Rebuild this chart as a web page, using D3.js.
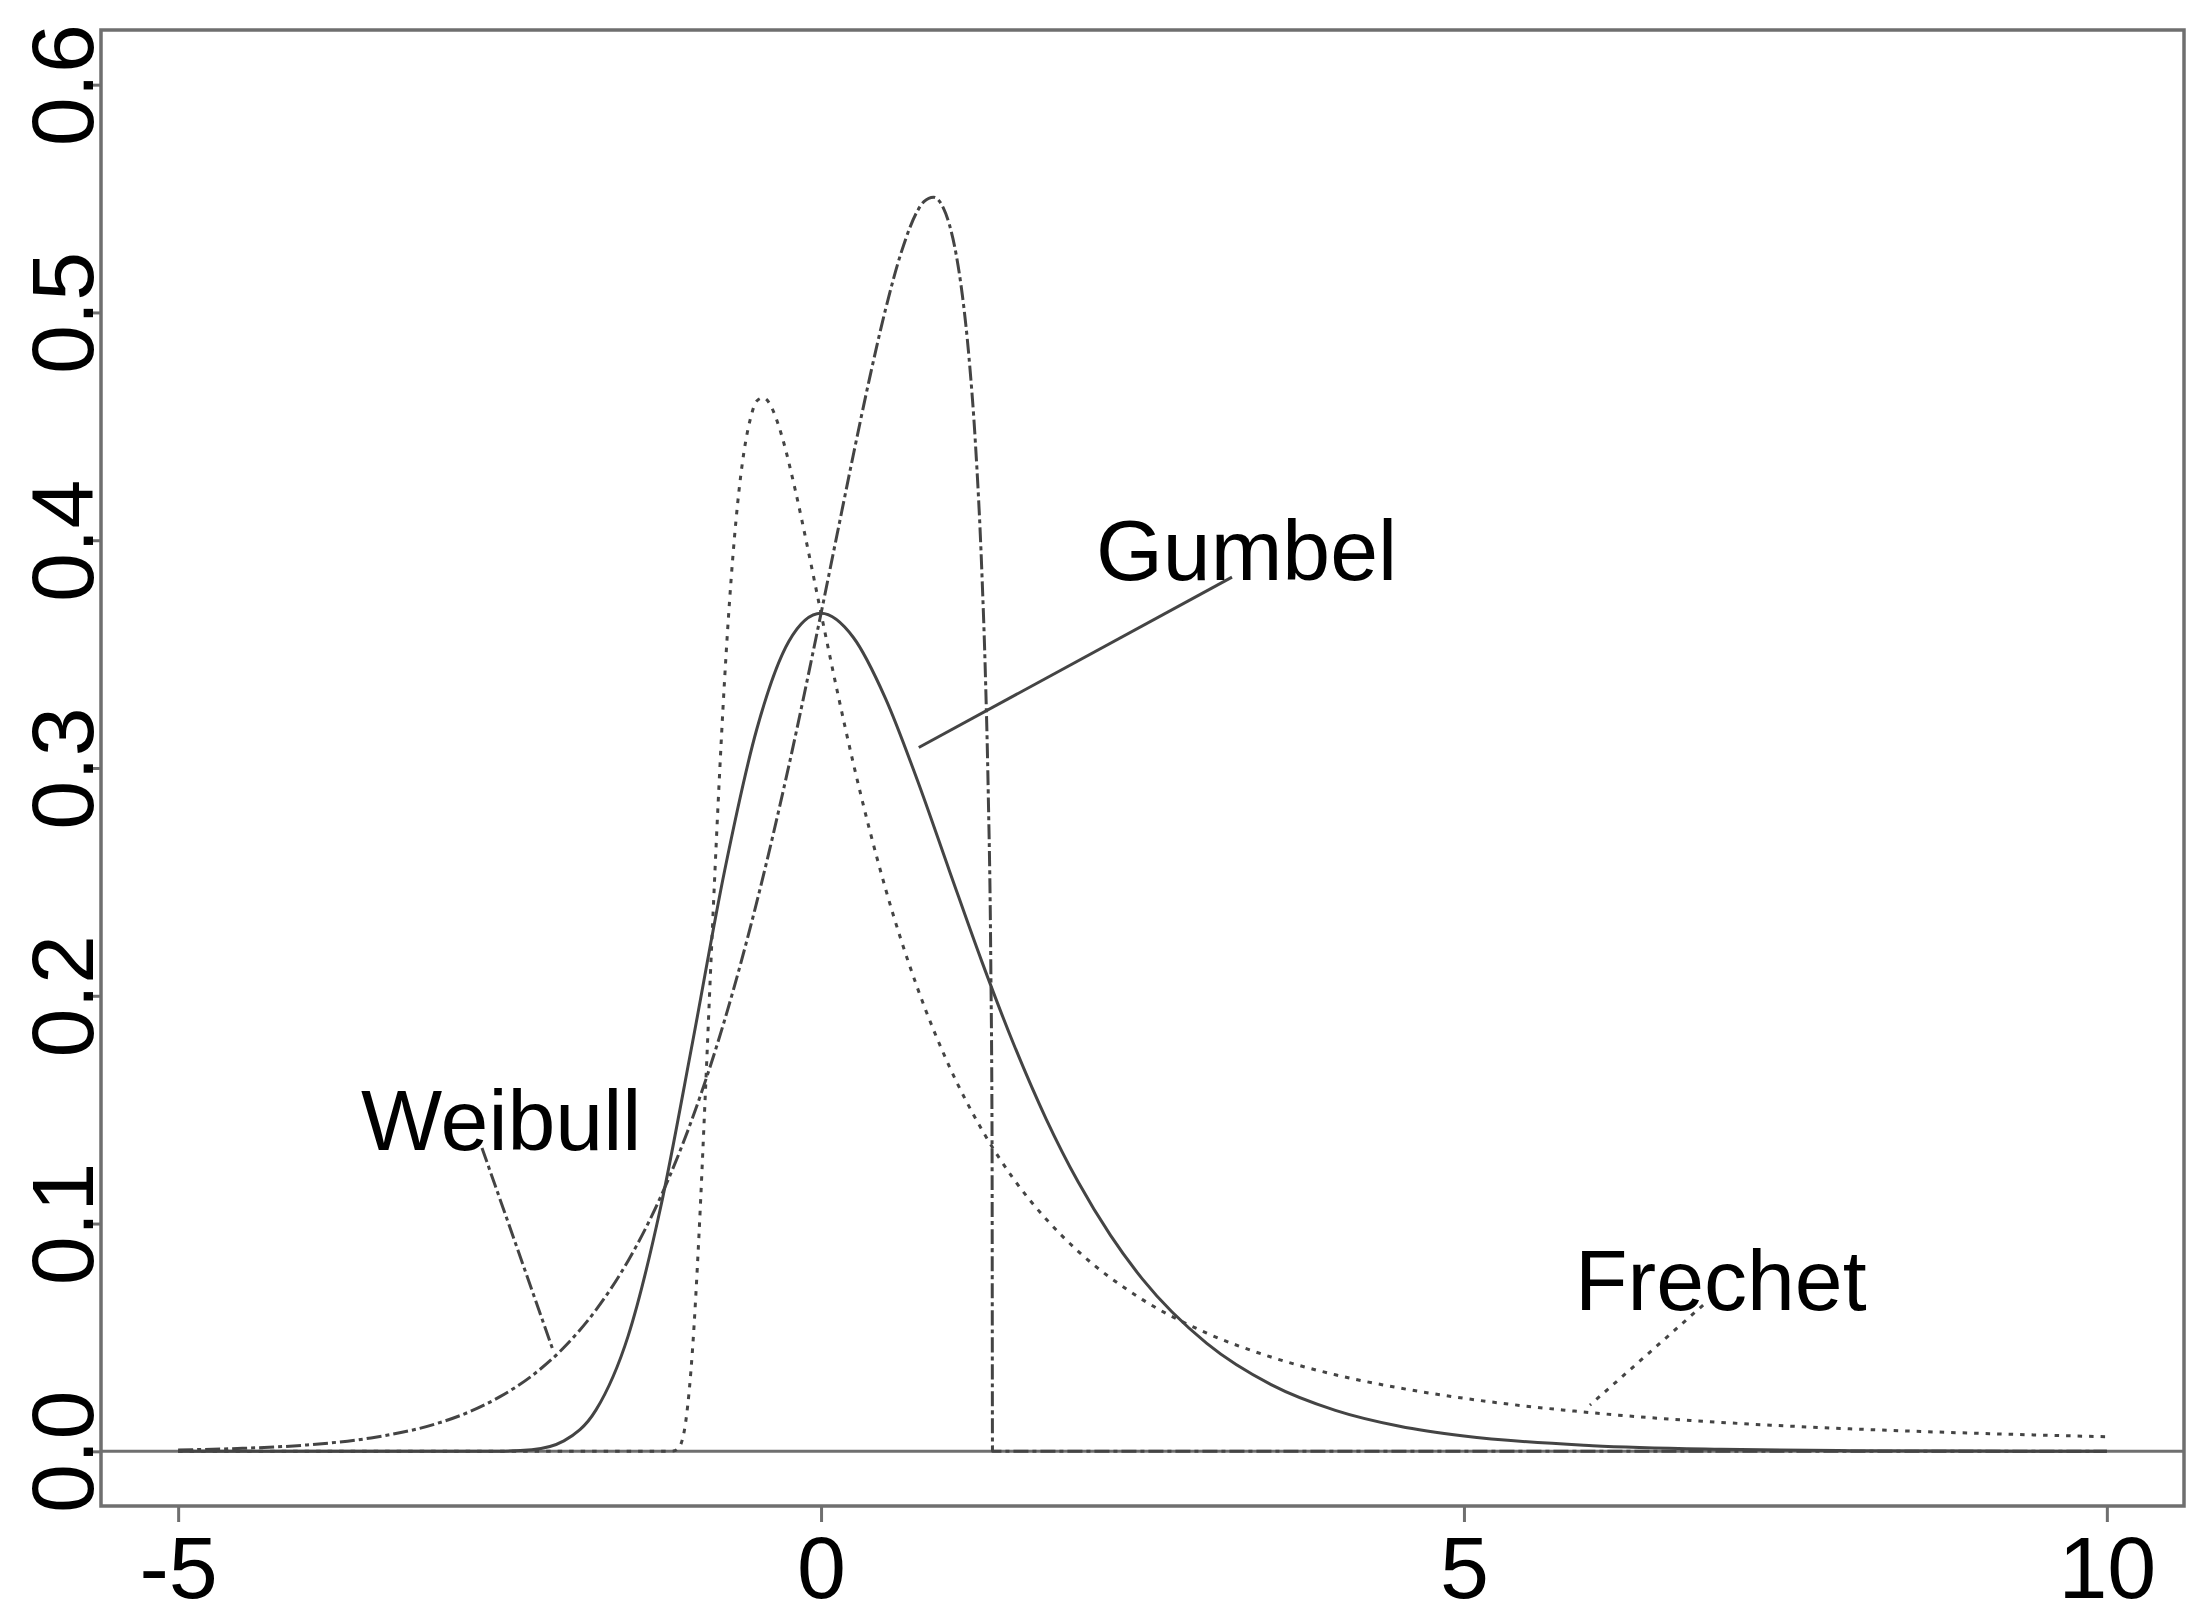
<!DOCTYPE html>
<html>
<head>
<meta charset="utf-8">
<script src="https://cdn.jsdelivr.net/npm/d3@7"></script>
<style>
  html, body { margin: 0; padding: 0; background: #ffffff; }
  svg { display: block; }
  text { font-family: "Liberation Sans", Arial, Helvetica, sans-serif; fill: #000; }
</style>
</head>
<body>
<script>
// ---------------- data ----------------
const xTicks = [-5, 0, 5, 10];
const xTickLabels = ["-5", "0", "5", "10"];
const yTicks = [0, 0.1, 0.2, 0.3, 0.4, 0.5, 0.6];
const yTickLabels = ["0.0", "0.1", "0.2", "0.3", "0.4", "0.5", "0.6"];

// Gumbel (solid)
const gumbelX = [-5, -4, -3, -2.75, -2.5, -2.25, -2, -1.75, -1.5, -1.25, -1, -0.75, -0.5, -0.25, 0, 0.25, 0.5, 0.75, 1, 1.25, 1.5, 1.75, 2, 2.25, 2.5, 3, 3.5, 4, 4.5, 5, 6, 7, 8, 9, 10];
const gumbelY = [0, 0, 0, 0.000003, 0.00006, 0.0007, 0.0046, 0.0182, 0.0507, 0.1065, 0.1794, 0.2549, 0.3170, 0.3556, 0.3679, 0.3574, 0.3307, 0.2945, 0.2546, 0.2151, 0.1785, 0.1460, 0.1182, 0.0949, 0.0756, 0.0474, 0.0293, 0.0180, 0.0110, 0.0067, 0.0025, 0.0009, 0.0003, 0.0001, 0.00005];

// Weibull (dash-dot)
const weibullX = [-5, -4.5, -4, -3.5, -3, -2.75, -2.5, -2.25, -2, -1.75, -1.5, -1.25, -1, -0.75, -0.5, -0.25, 0, 0.125, 0.25, 0.375, 0.5, 0.625, 0.75, 0.8, 0.875, 0.95, 1, 1.05, 1.1, 1.15, 1.2, 1.25, 1.28, 1.3, 1.32, 1.33, 1.3333, 2, 4, 6, 8, 10];
const weibullY = [0.0006, 0.0013, 0.0028, 0.0059, 0.0120, 0.0170, 0.0239, 0.0331, 0.0456, 0.0621, 0.0837, 0.1114, 0.1463, 0.1893, 0.2411, 0.3011, 0.3679, 0.4026, 0.4372, 0.4705, 0.5010, 0.5266, 0.5446, 0.5487, 0.5506, 0.5460, 0.5382, 0.5257, 0.5071, 0.4807, 0.4432, 0.3870, 0.3373, 0.2900, 0.2150, 0.1356, 0, 0, 0, 0, 0, 0];

// Frechet (dotted)
const frechetX = [-5, -1.3333, -1.2, -1.15, -1.1, -1.05, -1.0, -0.95, -0.9, -0.85, -0.8, -0.75, -0.7, -0.65, -0.6, -0.55, -0.5, -0.45, -0.4, -0.35, -0.3, -0.2, -0.1, 0, 0.125, 0.25, 0.5, 0.75, 1, 1.25, 1.5, 1.75, 2, 2.5, 3, 3.5, 4, 4.5, 5, 6, 7, 8, 9, 10];
const frechetY = [0, 0, 0, 0.0001, 0.0021, 0.0140, 0.0444, 0.0943, 0.1568, 0.2230, 0.2850, 0.3390, 0.3824, 0.4154, 0.4386, 0.4532, 0.4611, 0.4625, 0.4600, 0.4536, 0.4448, 0.4219, 0.3955, 0.3679, 0.3340, 0.3023, 0.2473, 0.2034, 0.1687, 0.1413, 0.1194, 0.1020, 0.0878, 0.0666, 0.0519, 0.0414, 0.0336, 0.0278, 0.0233, 0.0169, 0.0127, 0.0099, 0.0079, 0.0064];

// Annotations (text anchor and leader line, in data units)
const annotLabels = ["Weibull", "Gumbel", "Frechet"];
const annotTextX = [-3.578, 2.138, 5.864];
const annotTextY = [0.1323, 0.3826, 0.0621];
const leaderX1 = [-2.637, 3.196, 6.86];
const leaderY1 = [0.1332, 0.3838, 0.0642];
const leaderX2 = [-2.085, 0.76, 5.98];
const leaderY2 = [0.0445, 0.309, 0.0203];
const annotStyle = ["weibull", "gumbel", "frechet"];

// ---------------- drawing ----------------
const W = 2208, H = 1623;
const plot = { left: 101, right: 2184, top: 30, bottom: 1506 };

const xDomain = [-5.6, 10.6];
const yDomain = [-0.024, 0.624];

const x = d3.scaleLinear().domain(xDomain).range([plot.left, plot.right]);
const y = d3.scaleLinear().domain(yDomain).range([plot.bottom, plot.top]);

const svg = d3.select("body").append("svg")
  .attr("width", W).attr("height", H)
  .attr("viewBox", `0 0 ${W} ${H}`);

svg.append("rect").attr("width", W).attr("height", H).attr("fill", "#fff");

const frameColor = "#6f6f6f";
const curveColor = "#444444";

const styles = {
  gumbel:  { dash: null,          width: 3 },
  weibull: { dash: "15,4,4,4",    width: 3 },
  frechet: { dash: "4.5,7",       width: 3 }
};

// zero reference line
svg.append("line")
  .attr("x1", plot.left).attr("x2", plot.right)
  .attr("y1", y(0)).attr("y2", y(0))
  .attr("stroke", frameColor).attr("stroke-width", 3);

// curves
const line = d3.line()
  .x(d => x(d[0])).y(d => y(d[1]))
  .curve(d3.curveMonotoneX);

function drawSeries(xs, ys, key) {
  const pts = xs.map((v, i) => [v, ys[i]]);
  const p = svg.append("path")
    .datum(pts)
    .attr("d", line)
    .attr("fill", "none")
    .attr("stroke", curveColor)
    .attr("stroke-width", styles[key].width)
    .attr("stroke-linejoin", "round");
  if (styles[key].dash) p.attr("stroke-dasharray", styles[key].dash);
}
drawSeries(frechetX, frechetY, "frechet");
drawSeries(weibullX, weibullY, "weibull");
drawSeries(gumbelX, gumbelY, "gumbel");

// frame
svg.append("rect")
  .attr("x", plot.left).attr("y", plot.top)
  .attr("width", plot.right - plot.left).attr("height", plot.bottom - plot.top)
  .attr("fill", "none").attr("stroke", frameColor).attr("stroke-width", 3.5);

// x axis
const xAxis = d3.axisBottom(x)
  .tickValues(xTicks)
  .tickSize(16)
  .tickFormat((d, i) => xTickLabels[i]);
const gx = svg.append("g")
  .attr("transform", `translate(0,${plot.bottom})`)
  .call(xAxis);
gx.select(".domain").remove();
gx.selectAll(".tick line").attr("stroke", frameColor).attr("stroke-width", 3);
gx.selectAll(".tick text")
  .attr("y", 92).attr("dy", null)
  .style("font-size", "88px")
  .style("font-family", "'Liberation Sans', Arial, sans-serif")
  .attr("fill", "#000");

// y axis
const yAxis = d3.axisLeft(y)
  .tickValues(yTicks)
  .tickSize(16)
  .tickFormat((d, i) => yTickLabels[i]);
const gy = svg.append("g")
  .attr("transform", `translate(${plot.left},0)`)
  .call(yAxis);
gy.select(".domain").remove();
gy.selectAll(".tick line").attr("stroke", frameColor).attr("stroke-width", 3);
gy.selectAll(".tick text")
  .attr("x", null).attr("dy", null)
  .attr("transform", `translate(${93 - plot.left},0) rotate(-90)`)
  .attr("text-anchor", "middle")
  .style("font-size", "88px")
  .style("font-family", "'Liberation Sans', Arial, sans-serif")
  .attr("fill", "#000");

// annotations
annotLabels.forEach((lab, i) => {
  const st = styles[annotStyle[i]];
  const l = svg.append("line")
    .attr("x1", x(leaderX1[i])).attr("y1", y(leaderY1[i]))
    .attr("x2", x(leaderX2[i])).attr("y2", y(leaderY2[i]))
    .attr("stroke", curveColor).attr("stroke-width", st.width);
  if (st.dash) l.attr("stroke-dasharray", st.dash);
  svg.append("text")
    .attr("x", x(annotTextX[i])).attr("y", y(annotTextY[i]))
    .attr("text-anchor", "start")
    .style("font-size", "86px")
    .text(lab);
});
</script>
</body>
</html>
